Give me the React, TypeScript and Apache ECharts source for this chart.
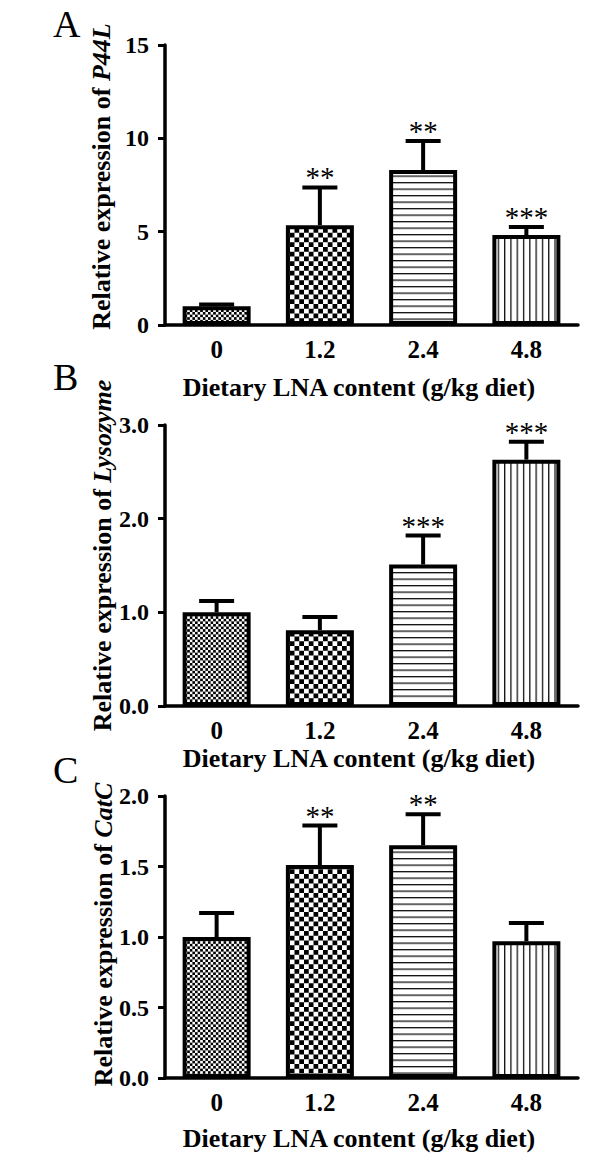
import React, { useEffect, useRef } from 'react';
import * as echarts from 'echarts';

// ---- data ----
const categories = ['0', '1.2', '2.4', '4.8'];

const p44lMean = [1.0, 5.35, 8.3, 4.82];
const p44lUpper = [1.1, 7.37, 9.86, 5.25];
const p44lSig = ['', '**', '**', '***'];

const lysMean = [1.0, 0.81, 1.51, 2.63];
const lysUpper = [1.12, 0.95, 1.82, 2.82];
const lysSig = ['', '', '***', '***'];

const catcMean = [1.0, 1.51, 1.65, 0.97];
const catcUpper = [1.17, 1.79, 1.87, 1.1];
const catcSig = ['', '**', '**', ''];

const p44lAxis = [0, 15, 5];
const lysAxis = [0, 3, 1];
const catcAxis = [0, 2, 0.5];

const xTitle = 'Dietary LNA content (g/kg diet)';
const yPrefix = 'Relative expression of ';
const geneNames = ['P44L', 'Lysozyme', 'CatC'];
const panelLetters = ['A', 'B', 'C'];

const FONT = 'Liberation Serif, Times New Roman, serif';

function svgPattern(w: number, h: number, body: string) {
  const svg = `<svg xmlns="http://www.w3.org/2000/svg" width="${w}" height="${h}" viewBox="0 0 ${w} ${h}"><rect width="${w}" height="${h}" fill="#fff"/>${body}</svg>`;
  return {
    image: 'data:image/svg+xml;charset=utf-8,' + encodeURIComponent(svg),
    repeat: 'repeat',
    imageWidth: w,
    imageHeight: h,
  };
}

const fineChecker = svgPattern(5.2, 5.2, '<rect x="0" y="0" width="2.6" height="2.6" fill="#000"/><rect x="2.6" y="2.6" width="2.6" height="2.6" fill="#000"/>');
const coarseChecker = svgPattern(9.5, 9.5, '<rect x="0" y="0" width="4.75" height="4.75" fill="#000"/><rect x="4.75" y="4.75" width="4.75" height="4.75" fill="#000"/>');
const hLines = svgPattern(6, 6.5, '<rect x="0" y="0" width="6" height="1.3" fill="#111"/>');
const vLines = svgPattern(6.3, 6, '<rect x="0" y="0" width="1.3" height="6" fill="#111"/>');
const patterns = [fineChecker, coarseChecker, hLines, vLines];

const gridTops = [45, 425, 796];
const gridHeights = [280, 281, 282];
const xTitleY = [387, 758, 1138];
const yTitlePos = [[101, 176.5], [102, 555.5], [103, 934.5]];
const letterY = [23.5, 376.5, 770];

function errRender(sig: string[]) {
  return (params: any, api: any) => {
    const i = params.dataIndex;
    const base = api.coord([api.value(0), api.value(1)]);
    const top = api.coord([api.value(0), api.value(2)]);
    const half = 17.5;
    const children: any[] = [
      { type: 'line', shape: { x1: base[0], y1: base[1], x2: top[0], y2: top[1] }, style: { stroke: '#000', lineWidth: 4 } },
      { type: 'line', shape: { x1: top[0] - half, y1: top[1], x2: top[0] + half, y2: top[1] }, style: { stroke: '#000', lineWidth: 4 } },
    ];
    if (sig[i]) {
      children.push({
        type: 'text',
        x: top[0],
        y: top[1] - 10,
        style: { text: sig[i], fontFamily: FONT, fontSize: 29, fill: '#000', align: 'center', verticalAlign: 'middle' },
      });
    }
    return { type: 'group', children };
  };
}

export default function App() {
  const ref = useRef<HTMLDivElement>(null);
  useEffect(() => {
    if (!ref.current) return;
    const chart = echarts.init(ref.current, undefined, { renderer: 'svg' });
    const means = [p44lMean, lysMean, catcMean];
    const uppers = [p44lUpper, lysUpper, catcUpper];
    const sigs = [p44lSig, lysSig, catcSig];
    const axes = [p44lAxis, lysAxis, catcAxis];

    const grid = gridTops.map((t, k) => ({ left: 165, width: 413, top: t, height: gridHeights[k] }));
    const xAxis = gridTops.map((_, k) => ({
      type: 'category',
      gridIndex: k,
      data: categories,
      axisLine: { lineStyle: { color: '#000', width: 3.5 } },
      axisTick: { alignWithLabel: true, length: 8, lineStyle: { color: '#000', width: 3 } },
      axisLabel: { color: '#000', fontFamily: FONT, fontWeight: 'bold', fontSize: 25, margin: 12 },
      splitLine: { show: false },
    }));
    const yAxis = axes.map((a, k) => ({
      type: 'value',
      gridIndex: k,
      min: a[0],
      max: a[1],
      interval: a[2],
      axisLine: { show: true, lineStyle: { color: '#000', width: 3.5 } },
      axisTick: { show: true, length: 7, lineStyle: { color: '#000', width: 3 } },
      axisLabel: {
        color: '#000', fontFamily: FONT, fontWeight: 'bold', fontSize: 24, margin: 16,
        formatter: (v: number) => (k === 0 ? String(v) : v.toFixed(1)),
      },
      splitLine: { show: false },
    }));
    const series: any[] = [];
    means.forEach((m, k) => {
      series.push({
        type: 'bar',
        xAxisIndex: k,
        yAxisIndex: k,
        barWidth: 68,
        data: m.map((v, i) => ({ value: v, itemStyle: { color: patterns[i] } })),
        itemStyle: { borderColor: '#000', borderWidth: 4 },
        z: 2,
      });
      series.push({
        type: 'custom',
        xAxisIndex: k,
        yAxisIndex: k,
        data: m.map((v, i) => [i, v, uppers[k][i]]),
        encode: { x: 0, y: [1, 2] },
        renderItem: errRender(sigs[k]),
        z: 3,
      });
    });

    const graphic: any[] = [];
    gridTops.forEach((_, k) => {
      graphic.push({
        type: 'text', x: 53, y: letterY[k],
        style: { text: panelLetters[k], fontFamily: FONT, fontSize: 38, fill: '#000', align: 'left', verticalAlign: 'middle' },
      });
      graphic.push({
        type: 'text', x: 359, y: xTitleY[k],
        style: { text: xTitle, fontFamily: FONT, fontWeight: 'bold', fontSize: 26, fill: '#000', align: 'center', verticalAlign: 'middle' },
      });
      graphic.push({
        type: 'text', x: yTitlePos[k][0], y: yTitlePos[k][1], rotation: Math.PI / 2,
        style: {
          text: `{n|${yPrefix}}{i|${geneNames[k]}}`,
          fontFamily: FONT, fontWeight: 'bold', fontSize: 26, fill: '#000', align: 'center', verticalAlign: 'middle',
          rich: {
            n: { fontFamily: FONT, fontWeight: 'bold', fontSize: 26, fill: '#000' },
            i: { fontFamily: FONT, fontWeight: 'bold', fontStyle: 'italic', fontSize: 26, fill: '#000' },
          },
        },
      });
    });

    chart.setOption({
      animation: false,
      backgroundColor: '#fff',
      grid,
      xAxis,
      yAxis,
      series,
      graphic,
    });
    return () => chart.dispose();
  }, []);
  return <div ref={ref} style={{ position: 'absolute', left: 0, top: 0, width: 609, height: 1159 }} />;
}
